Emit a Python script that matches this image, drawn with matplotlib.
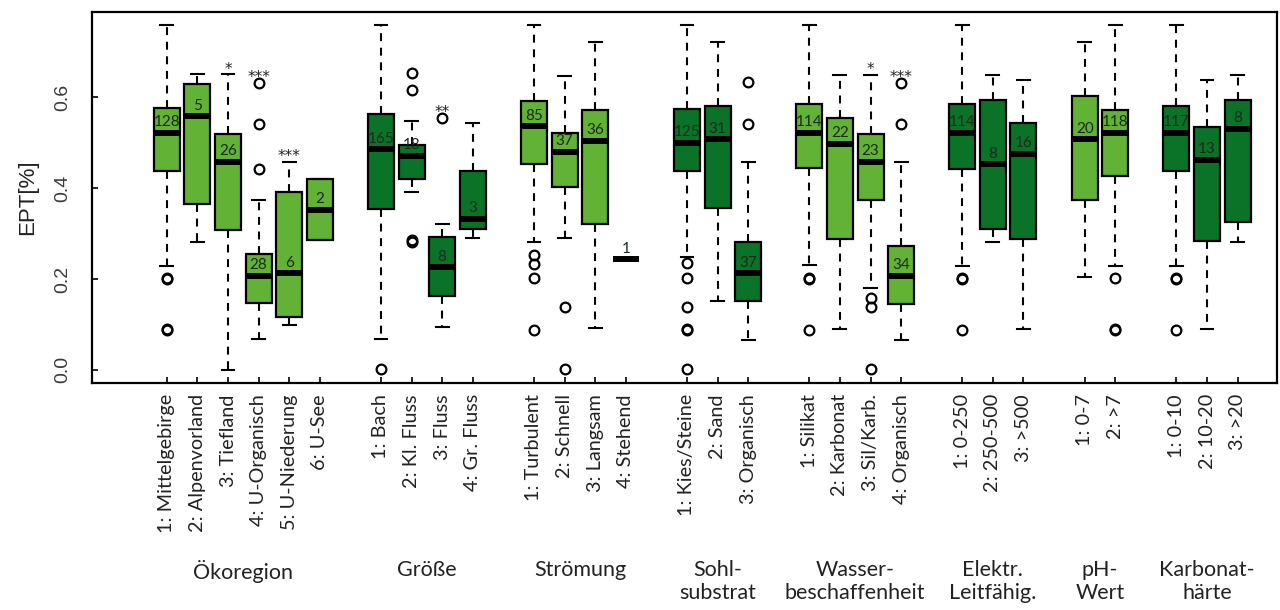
import matplotlib
matplotlib.use('Agg')
import matplotlib.pyplot as plt
import matplotlib.transforms as mtransforms

LIGHT = '#62b236'
DARK = '#0a7328'

# grouping factors along the x axis
group_titles = ['Ökoregion', 'Größe', 'Strömung', 'Sohl-\nsubstrat', 'Wasser-\nbeschaffenheit',
                'Elektr.\nLeitfähig.', 'pH-\nWert', 'Karbonat-\nhärte']
group_sizes = [6, 4, 4, 3, 4, 3, 2, 3]
group_light = [True, False, True, False, True, False, True, False]

labels = ['1: Mittelgebirge', '2: Alpenvorland', '3: Tiefland', '4: U-Organisch', '5: U-Niederung', '6: U-See',
          '1: Bach', '2: Kl. Fluss', '3: Fluss', '4: Gr. Fluss',
          '1: Turbulent', '2: Schnell', '3: Langsam', '4: Stehend',
          '1: Kies/Steine', '2: Sand', '3: Organisch',
          '1: Silikat', '2: Karbonat', '3: Sil/Karb.', '4: Organisch',
          '1: 0-250', '2: 250-500', '3: >500',
          '1: 0-7', '2: >7',
          '1: 0-10', '2: 10-20', '3: >20']
n_counts = [128, 5, 26, 28, 6, 2,
            165, 18, 8, 3,
            85, 37, 36, 1,
            125, 31, 37,
            114, 22, 23, 34,
            114, 8, 16,
            20, 118,
            117, 13, 8]
whishi = [0.758, 0.650, 0.650, 0.374, 0.457, 0.421,
          0.758, 0.548, 0.320, 0.544,
          0.758, 0.646, 0.722, 0.244,
          0.758, 0.722, 0.458,
          0.758, 0.648, 0.648, 0.458,
          0.758, 0.648, 0.637,
          0.722, 0.758,
          0.758, 0.637, 0.648]
q3 = [0.576, 0.630, 0.520, 0.256, 0.391, 0.421,
      0.563, 0.495, 0.293, 0.438,
      0.591, 0.522, 0.571, 0.244,
      0.573, 0.581, 0.281,
      0.585, 0.555, 0.518, 0.273,
      0.585, 0.593, 0.544,
      0.602, 0.571,
      0.581, 0.535, 0.593]
med = [0.522, 0.558, 0.458, 0.207, 0.213, 0.352,
       0.486, 0.471, 0.226, 0.333,
       0.536, 0.480, 0.504, 0.244,
       0.500, 0.507, 0.213,
       0.522, 0.498, 0.458, 0.207,
       0.522, 0.453, 0.476,
       0.507, 0.522,
       0.522, 0.462, 0.531]
q1 = [0.438, 0.366, 0.308, 0.148, 0.117, 0.286,
      0.353, 0.421, 0.163, 0.311,
      0.453, 0.403, 0.320, 0.244,
      0.438, 0.357, 0.152,
      0.445, 0.289, 0.374, 0.144,
      0.443, 0.311, 0.289,
      0.374, 0.426,
      0.438, 0.284, 0.326]
whislo = [0.229, 0.281, 0.000, 0.067, 0.099, 0.286,
          0.067, 0.391, 0.094, 0.291,
          0.281, 0.291, 0.092, 0.244,
          0.248, 0.152, 0.066,
          0.231, 0.090, 0.180, 0.066,
          0.229, 0.281, 0.089,
          0.204, 0.229,
          0.229, 0.089, 0.282]
fliers = [[0.202, 0.199, 0.090, 0.088], [], [], [0.632, 0.542, 0.442], [], [],
          [0.002], [0.654, 0.615, 0.286, 0.282], [0.555], [],
          [0.253, 0.232, 0.203, 0.088], [0.139, 0.002], [], [],
          [0.235, 0.203, 0.138, 0.090, 0.088, 0.002], [], [0.634, 0.542],
          [0.203, 0.200, 0.088], [], [0.159, 0.139, 0.002], [0.632, 0.542],
          [0.203, 0.200, 0.088], [], [],
          [], [0.202, 0.090, 0.087],
          [0.203, 0.200, 0.088], [], []]
stars = ['', '', '*', '***', '***', '',
         '', '', '**', '',
         '', '', '', '',
         '', '', '',
         '', '', '*', '***',
         '', '', '',
         '', '',
         '', '', '']

# one empty slot between groups
positions, colors, group_centers = [], [], []
x = 1
for size, light in zip(group_sizes, group_light):
    group_centers.append(x + (size - 1) / 2)
    for _ in range(size):
        positions.append(x)
        colors.append(LIGHT if light else DARK)
        x += 1
    x += 1

stats = []
for i in range(len(labels)):
    stats.append(dict(med=med[i], q1=q1[i], q3=q3[i], whislo=whislo[i], whishi=whishi[i], fliers=fliers[i]))

fig = plt.figure(figsize=(12.8, 6.1), dpi=100)
ax = fig.add_axes([0.072, 0.372, 0.926, 0.608])

bp = ax.bxp(stats, positions=positions, widths=0.85, capwidths=0.42, patch_artist=True,
            boxprops=dict(edgecolor='black', linewidth=1.6),
            whiskerprops=dict(color='black', linewidth=1.5, linestyle=(0, (3.8, 3.2))),
            capprops=dict(color='black', linewidth=1.5),
            medianprops=dict(color='black', linewidth=4.3, solid_capstyle='butt'),
            flierprops=dict(marker='o', markerfacecolor='none', markeredgecolor='black',
                            markersize=7, markeredgewidth=1.6))
for box, c in zip(bp['boxes'], colors):
    box.set_facecolor(c)

# sample sizes above the median, significance stars above the highest value
for i, p in enumerate(positions):
    ax.annotate(str(n_counts[i]), (p, med[i]), xytext=(0, 2.5), textcoords='offset points',
                ha='center', va='bottom', fontsize=11, family='Lato', color='#1c2a1c')
    if stars[i]:
        top = max([whishi[i]] + fliers[i])
        ax.annotate(stars[i], (p, top), xytext=(0, -1.5), textcoords='offset points',
                    ha='center', va='bottom', fontsize=11, family='DejaVu Sans', color='#222222')

ax.set_xlim(-1.44, 37.3)
ax.set_ylim(-0.029, 0.787)
ax.set_yticks([0.0, 0.2, 0.4, 0.6])
ax.set_yticklabels(['0.0', '0.2', '0.4', '0.6'], rotation=90, va='center',
                   family='Liberation Sans', fontsize=14, color='#3a3a3a')
ax.set_xticks(positions)
ax.set_xticklabels(labels, rotation=90, family='Lato', fontsize=14.3, color='#222222')
ax.tick_params(axis='both', direction='in', length=4, width=1.2)
ax.tick_params(axis='y', pad=15)
ax.tick_params(axis='x', pad=8)
for spine in ax.spines.values():
    spine.set_linewidth(1.6)

ax.set_ylabel('EPT[%]', family='Liberation Sans', fontsize=16, color='#222222', labelpad=12)

trans = mtransforms.blended_transform_factory(ax.transData, fig.transFigure)
for title, cx in zip(group_titles, group_centers):
    ax.text(cx, 1 - 560 / 610, title, transform=trans, ha='center', va='top',
            family='Lato', fontsize=15.5, color='#222222', linespacing=1.2)

fig.savefig('out.png', dpi=100)
